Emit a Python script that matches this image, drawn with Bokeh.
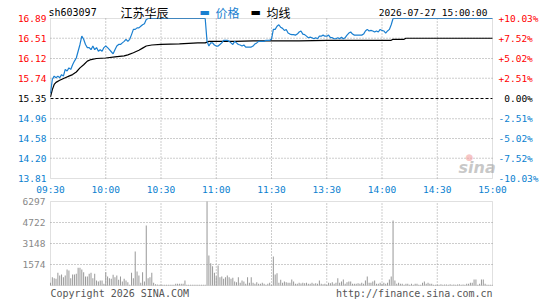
from bokeh.plotting import figure
from bokeh.models import ColumnDataSource, LabelSet, Label, Range1d, BoxAnnotation
from bokeh.core.properties import value
from bokeh.embed import file_html
from bokeh.resources import INLINE

# ---------------- data ----------------
prev_close = 15.35
time_ticks = [0, 30, 60, 90, 120, 150, 180, 210, 240]
time_labels = ["09:30", "10:00", "10:30", "11:00", "11:30", "13:30", "14:00", "14:30", "15:00"]
price_ticks = [16.89, 16.51, 16.12, 15.74, 15.35, 14.96, 14.58, 14.20, 13.81]
pct_labels = ["+10.03%", "+7.52%", "+5.02%", "+2.51%", "\u20070.00%", "-2.51%", "-5.02%", "-7.52%", "-10.03%"]
vol_ticks = [1574, 3148, 4722, 6297]

minutes = list(range(241))
price = [
    15.45, 15.72, 15.78, 15.75, 15.78, 15.75, 15.81, 15.78, 15.91, 15.88,
    15.94, 15.91, 16.00, 16.07, 16.13, 16.26, 16.39, 16.55, 16.49, 16.39,
    16.33, 16.33, 16.29, 16.36, 16.29, 16.33, 16.26, 16.29, 16.26, 16.33,
    16.36, 16.33, 16.29, 16.25, 16.21, 16.29, 16.36, 16.39, 16.39, 16.42,
    16.45, 16.49, 16.45, 16.49, 16.58, 16.68, 16.68, 16.71, 16.71, 16.74,
    16.77, 16.79, 16.87, 16.89, 16.89, 16.89, 16.89, 16.89, 16.89, 16.89,
    16.89, 16.89, 16.89, 16.89, 16.89, 16.89, 16.89, 16.89, 16.89, 16.89,
    16.89, 16.89, 16.89, 16.89, 16.89, 16.89, 16.89, 16.89, 16.89, 16.89,
    16.89, 16.89, 16.89, 16.89, 16.89, 16.45, 16.36, 16.42, 16.42, 16.38,
    16.36, 16.36, 16.39, 16.42, 16.47, 16.47, 16.47, 16.45, 16.42, 16.39,
    16.45, 16.42, 16.39, 16.38, 16.36, 16.38, 16.34, 16.34, 16.34, 16.34,
    16.36, 16.40, 16.42, 16.45, 16.45, 16.45, 16.45, 16.47, 16.47, 16.47,
    16.49, 16.68, 16.68, 16.74, 16.77, 16.72, 16.70, 16.66, 16.68, 16.61,
    16.59, 16.58, 16.58, 16.57, 16.59, 16.63, 16.65, 16.59, 16.58, 16.55,
    16.52, 16.53, 16.52, 16.50, 16.52, 16.50, 16.55, 16.55, 16.57, 16.55,
    16.55, 16.57, 16.52, 16.52, 16.50, 16.50, 16.52, 16.50, 16.53, 16.50,
    16.52, 16.57, 16.61, 16.63, 16.59, 16.57, 16.57, 16.57, 16.57, 16.57,
    16.59, 16.65, 16.68, 16.65, 16.66, 16.65, 16.63, 16.65, 16.63, 16.68,
    16.66, 16.65, 16.61, 16.65, 16.68, 16.77, 16.89, 16.89, 16.89, 16.89,
    16.89, 16.89, 16.89, 16.89, 16.89, 16.89, 16.89, 16.89, 16.89, 16.89,
    16.89, 16.89, 16.89, 16.89, 16.89, 16.89, 16.89, 16.89, 16.89, 16.89,
    16.89, 16.89, 16.89, 16.89, 16.89, 16.89, 16.89, 16.89, 16.89, 16.89,
    16.89, 16.89, 16.89, 16.89, 16.89, 16.89, 16.89, 16.89, 16.89, 16.89,
    16.89, 16.89, 16.89, 16.89, 16.89, 16.89, 16.89, 16.89, 16.89, 16.89,
    16.89,
]

avg_t = [0, 1, 2, 3, 5, 8, 10, 12, 14, 16, 18, 20, 22, 25, 30, 35, 40, 42, 45, 48,
         50, 52, 55, 60, 70, 80, 84, 86, 90, 100, 110, 120, 135, 150, 170, 185,
         186, 192, 193, 210, 240]
avg_v = [15.38, 15.52, 15.62, 15.66, 15.70, 15.75, 15.78, 15.81, 15.86, 15.94,
         16.00, 16.07, 16.10, 16.12, 16.13, 16.15, 16.17, 16.19, 16.23, 16.28,
         16.32, 16.36, 16.38, 16.39, 16.40, 16.42, 16.42, 16.45, 16.45, 16.45,
         16.46, 16.46, 16.46, 16.47, 16.47, 16.47, 16.49, 16.49, 16.51, 16.51,
         16.51]

volume = [
    200, 625, 550, 500, 950, 750, 825, 625, 750, 1200,
    1125, 550, 825, 825, 875, 1325, 1325, 1200, 1000, 675,
    675, 875, 950, 550, 875, 375, 300, 375, 375, 125,
    1000, 675, 550, 500, 800, 625, 750, 425, 675, 300,
    500, 375, 250, 50, 950, 550, 2550, 1050, 750, 200,
    1000, 300, 4500, 550, 625, 950, 200, 100, 75, 50,
    75, 50, 50, 50, 50, 50, 50, 50, 125, 125,
    125, 125, 125, 375, 60, 60, 60, 60, 60, 60,
    60, 60, 60, 60, 60, 6297, 2250, 1675, 1450, 950,
    700, 1500, 625, 675, 500, 625, 750, 625, 500, 575,
    300, 250, 625, 200, 375, 300, 125, 625, 200, 625,
    200, 125, 250, 125, 125, 200, 125, 50, 125, 200,
    50, 2175, 825, 925, 200, 425, 200, 300, 250, 200,
    200, 450, 300, 125, 125, 200, 150, 200, 175, 200,
    125, 125, 200, 125, 175, 125, 375, 125, 100, 125,
    50, 200, 175, 250, 125, 200, 550, 200, 300, 450,
    125, 250, 300, 300, 125, 125, 125, 175, 125, 200,
    125, 375, 675, 200, 200, 300, 375, 125, 125, 200,
    125, 200, 125, 200, 450, 675, 4875, 375, 125, 200,
    125, 125, 50, 125, 125, 50, 125, 50, 125, 125,
    50, 50, 200, 300, 125, 200, 125, 125, 50, 50,
    75, 50, 100, 50, 75, 75, 50, 100, 50, 75,
    50, 75, 100, 50, 75, 50, 125, 125, 200, 200,
    450, 450, 50, 125, 450, 450, 125, 50, 50, 50,
    50,
]

# ---------------- layout helpers (pixel geometry of the panels) ----------------
W, H = 545, 300
X0, X1 = 50, 492            # plot panels left/right (px)
PY0, PY1 = 18, 178          # price panel top/bottom (px)
VY0, VY1 = 201, 285         # volume panel top/bottom (px)
P_TOP, P_BOT = price_ticks[0], price_ticks[-1]
V_TOP = vol_ticks[-1]

xs = 240.0 / (X1 - X0)
ps = (P_TOP - P_BOT) / (PY1 - PY0)
vs = V_TOP / float(VY1 - VY0)


def dx(px):
    return (px - X0) * xs


def dy(px):
    return P_TOP - (px - PY0) * ps


def dv(px):
    return (VY1 - px) * vs


MONO = "DejaVu Sans Mono"
CJK = "Noto Sans CJK SC"
RED = "#ff0000"
BLUE = "#0a7fd0"
LINE_BLUE = "#1a7fd0"
GRID = "#9a9a9a"
FRAME = "#999999"
FS = "9.5px"


def tick_color(v):
    if v > prev_close + 1e-9:
        return RED
    if v < prev_close - 1e-9:
        return BLUE
    return "black"


p = figure(width=W, height=H, x_range=Range1d(dx(0), dx(W)), y_range=Range1d(dy(H), dy(0)),
           output_backend="svg", toolbar_location=None,
           x_axis_location=None, y_axis_location=None,
           min_border=0, min_border_left=0, min_border_right=0, min_border_top=0, min_border_bottom=0)
p.extra_y_ranges = {"vol": Range1d(dv(H), dv(0))}
p.outline_line_color = None
p.background_fill_color = "white"
p.border_fill_color = "white"
p.grid.visible = False

# ---- grid lines (dotted) ----
inner_t = time_ticks[1:-1]
p.segment(x0=inner_t, x1=inner_t, y0=[P_BOT] * len(inner_t), y1=[P_TOP] * len(inner_t),
          line_color=GRID, line_dash="1 2", line_width=1)
inner_p = [t for t in price_ticks[1:-1] if abs(t - prev_close) > 1e-9]
p.segment(x0=[0] * len(inner_p), x1=[240] * len(inner_p), y0=inner_p, y1=inner_p,
          line_color=GRID, line_dash="1 2", line_width=1)
p.segment(x0=[0], x1=[240], y0=[prev_close], y1=[prev_close],
          line_color="black", line_dash="3 2", line_width=1)

p.segment(x0=inner_t, x1=inner_t, y0=[0] * len(inner_t), y1=[V_TOP] * len(inner_t),
          line_color=GRID, line_dash="1 2", line_width=1, y_range_name="vol")
inner_v = vol_ticks[:-1]
p.segment(x0=[0] * len(inner_v), x1=[240] * len(inner_v), y0=inner_v, y1=inner_v,
          line_color=GRID, line_dash="1 2", line_width=1, y_range_name="vol")

# ---- watermark ----
p.add_layout(Label(x=dx(458), y=dy(167), text="sina", text_font="DejaVu Sans",
                   text_font_style="bold italic", text_font_size="16px",
                   text_color="#b0b0b0", text_alpha=0.7, text_baseline="middle"))
p.add_layout(Label(x=dx(465), y=dy(156), text="\u25cf", text_font="DejaVu Sans",
                   text_font_size="9px", text_color="#f2a0a0", text_alpha=0.6,
                   text_baseline="middle"))

# ---- volume bars ----
p.vbar(x=minutes, top=volume, bottom=0, width=0.55, fill_color="#999999", line_color=None,
       y_range_name="vol")

# ---- price & average lines ----
p.line(avg_t, avg_v, line_color="black", line_width=1.2)
p.line(minutes, price, line_color=LINE_BLUE, line_width=1.2)

# ---- panel frames ----
p.add_layout(BoxAnnotation(left=0, right=240, bottom=P_BOT, top=P_TOP, fill_alpha=0,
                           line_color=FRAME, line_width=1))
p.add_layout(BoxAnnotation(left=0, right=240, bottom=0, top=V_TOP, fill_alpha=0,
                           line_color=FRAME, line_width=1, y_range_name="vol"))

# ---- tick labels ----
tick_src = ColumnDataSource(dict(
    y=price_ticks,
    ptext=["%.2f" % v for v in price_ticks],
    pct=pct_labels,
    color=[tick_color(v) for v in price_ticks],
))
p.add_layout(LabelSet(x=0, y="y", text="ptext", source=tick_src, x_offset=-4,
                      text_align="right", text_baseline="middle", text_color="color",
                      text_font=value(MONO), text_font_size=FS))
p.add_layout(LabelSet(x=240, y="y", text="pct", source=tick_src, x_offset=6,
                      text_align="left", text_baseline="middle", text_color="color",
                      text_font=value(MONO), text_font_size=FS))

time_src = ColumnDataSource(dict(x=time_ticks, text=time_labels))
p.add_layout(LabelSet(x="x", y=dy(189), text="text", source=time_src,
                      text_align="center", text_baseline="middle", text_color=BLUE,
                      text_font=value(MONO), text_font_size=FS))

vol_src = ColumnDataSource(dict(y=vol_ticks, text=[str(v) for v in vol_ticks]))
p.add_layout(LabelSet(x=0, y="y", text="text", source=vol_src, x_offset=-5, y_range_name="vol",
                      text_align="right", text_baseline="middle", text_color="#888888",
                      text_font=value(MONO), text_font_size=FS))

# ---- header ----
hy = dy(12)
p.add_layout(Label(x=dx(48), y=hy, text="sh603097", text_font=MONO, text_font_size="10px",
                   text_color="black", text_baseline="middle"))
p.add_layout(Label(x=dx(120), y=hy, text="江苏华辰", text_font=CJK, text_font_size="12px",
                   text_color="black", text_baseline="middle"))
p.add_layout(Label(x=dx(199), y=hy, text="\u25ac", text_font="DejaVu Sans", text_font_size="11px",
                   text_color=LINE_BLUE, text_baseline="middle"))
p.add_layout(Label(x=dx(215), y=hy, text="价格", text_font=CJK, text_font_size="12px",
                   text_color=LINE_BLUE, text_baseline="middle"))
p.add_layout(Label(x=dx(250), y=hy, text="\u25ac", text_font="DejaVu Sans", text_font_size="11px",
                   text_color="black", text_baseline="middle"))
p.add_layout(Label(x=dx(266), y=hy, text="均线", text_font=CJK, text_font_size="12px",
                   text_color="black", text_baseline="middle"))
p.add_layout(Label(x=dx(487), y=hy, text="2026-07-27 15:00:00", text_font=MONO, text_font_size=FS,
                   text_color="black", text_align="right", text_baseline="middle"))

# ---- footer ----
fy = dv(293)
p.add_layout(Label(x=0, y=fy, y_range_name="vol", text="Copyright 2026 SINA.COM", text_font=MONO,
                   text_font_size="10px", text_color="#555555", text_baseline="middle"))
p.add_layout(Label(x=240, y=fy, y_range_name="vol", text="http://finance.sina.com.cn", text_font=MONO,
                   text_font_size="10px", text_color="#555555", text_align="right",
                   text_baseline="middle"))

open("out.html", "w").write(file_html(p, INLINE, title="sh603097"))
